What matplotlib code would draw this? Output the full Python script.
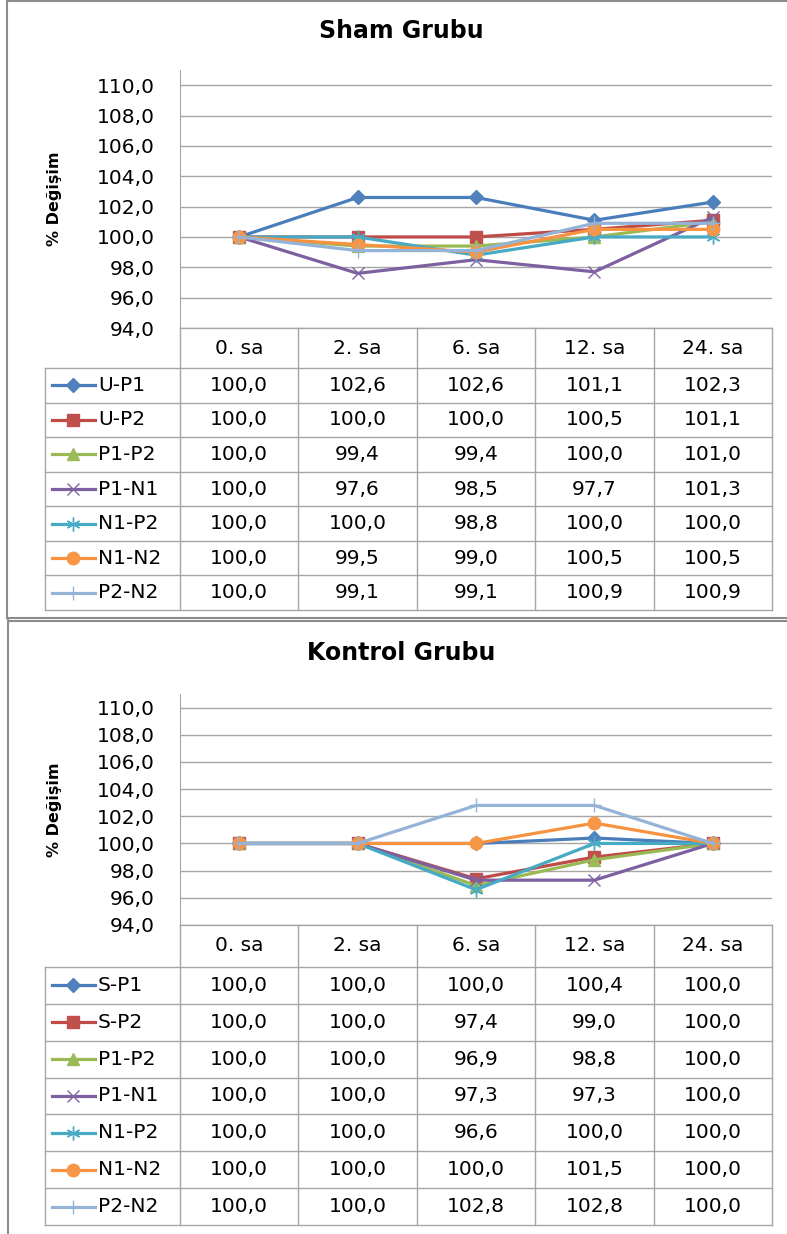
import numpy as np
import matplotlib
matplotlib.use("Agg")
import matplotlib.pyplot as plt
from matplotlib.lines import Line2D

plt.rcParams['font.family'] = ['DejaVu Sans']

hours = ['0. sa', '2. sa', '6. sa', '12. sa', '24. sa']

sham_labels = ['U-P1', 'U-P2', 'P1-P2', 'P1-N1', 'N1-P2', 'N1-N2', 'P2-N2']
sham_up1 = [100.0, 102.6, 102.6, 101.1, 102.3]
sham_up2 = [100.0, 100.0, 100.0, 100.5, 101.1]
sham_p1p2 = [100.0, 99.4, 99.4, 100.0, 101.0]
sham_p1n1 = [100.0, 97.6, 98.5, 97.7, 101.3]
sham_n1p2 = [100.0, 100.0, 98.8, 100.0, 100.0]
sham_n1n2 = [100.0, 99.5, 99.0, 100.5, 100.5]
sham_p2n2 = [100.0, 99.1, 99.1, 100.9, 100.9]

kontrol_labels = ['S-P1', 'S-P2', 'P1-P2', 'P1-N1', 'N1-P2', 'N1-N2', 'P2-N2']
kon_sp1 = [100.0, 100.0, 100.0, 100.4, 100.0]
kon_sp2 = [100.0, 100.0, 97.4, 99.0, 100.0]
kon_p1p2 = [100.0, 100.0, 96.9, 98.8, 100.0]
kon_p1n1 = [100.0, 100.0, 97.3, 97.3, 100.0]
kon_n1p2 = [100.0, 100.0, 96.6, 100.0, 100.0]
kon_n1n2 = [100.0, 100.0, 100.0, 101.5, 100.0]
kon_p2n2 = [100.0, 100.0, 102.8, 102.8, 100.0]

# excel 2007 style series
styles = [
    dict(color='#4A7EBB', marker='D', ms=7, mfc='#4F81BD', mec='#4F81BD', mew=1),
    dict(color='#BE4B48', marker='s', ms=8, mfc='#C0504D', mec='#C0504D', mew=1),
    dict(color='#98B954', marker='^', ms=9, mfc='#9BBB59', mec='#9BBB59', mew=1),
    dict(color='#7D60A0', marker='x', ms=9, mfc='#8064A2', mec='#8064A2', mew=1),
    dict(color='#46AAC5', marker=(6, 2, 0), ms=10, mfc='#4BACC6', mec='#4BACC6', mew=1),
    dict(color='#F69240', marker='o', ms=9, mfc='#F79646', mec='#F79646', mew=1),
    dict(color='#95B3D7', marker='+', ms=10, mfc='#95B3D7', mec='#95B3D7', mew=1),
]

W, H = 787, 1234
GRID = '#A6A6A6'
FS = 14.5


def frac(x0, y0, x1, y1):
    return [x0 / W, 1 - y1 / H, (x1 - x0) / W, (y1 - y0) / H]


def fmt(v):
    return f"{v:.1f}".replace('.', ',')


fig = plt.figure(figsize=(W / 100, H / 100), dpi=100)


def panel(title, title_y, top, bottom, tab_bottom, header_h, labels, series):
    fig.text(401 / W, 1 - title_y / H, title, ha='center', va='center',
             fontsize=17, fontweight='bold')

    ax = fig.add_axes(frac(180, top, 772, bottom))
    x = np.arange(len(hours))
    for vals, st in zip(series, styles):
        ax.plot(x, vals, lw=2.3, clip_on=False, **st)
    ax.set_xlim(-0.5, 4.5)
    ax.set_ylim(94, 111)
    yt = np.arange(94, 111, 2)
    ax.set_yticks(yt)
    ax.set_yticklabels([fmt(v) for v in yt])
    ax.set_xticks([])
    ax.yaxis.grid(True, color=GRID, lw=1)
    ax.set_axisbelow(True)
    for s in ['top', 'right', 'bottom']:
        ax.spines[s].set_visible(False)
    ax.spines['left'].set_color(GRID)
    ax.tick_params(axis='y', length=0, pad=18, labelsize=FS)
    fig.text(55 / W, 1 - ((top + bottom) / 2) / H, '% Değişim', rotation=90,
             ha='center', va='center', fontsize=11.5, fontweight='bold')

    # data table under the plot
    tab = fig.add_axes(frac(45, bottom, 772, tab_bottom))
    tab.set_xlim(45, 772)
    tab.set_ylim(tab_bottom, bottom)
    tab.axis('off')
    cols = [180, 298, 417, 535, 654, 772]
    rh = (tab_bottom - bottom - header_h) / len(labels)
    rows = [bottom, bottom + header_h] + [bottom + header_h + rh * (i + 1) for i in range(len(labels))]

    tab.plot([180, 772], [bottom, bottom], color=GRID, lw=1, clip_on=False)
    for yy in rows[1:]:
        tab.plot([45, 772], [yy, yy], color=GRID, lw=1, clip_on=False)
    tab.plot([45, 45], [rows[1], tab_bottom], color=GRID, lw=1, clip_on=False)
    for xx in cols:
        tab.plot([xx, xx], [bottom, tab_bottom], color=GRID, lw=1, clip_on=False)

    for j, h in enumerate(hours):
        tab.text((cols[j] + cols[j + 1]) / 2, (rows[0] + rows[1]) / 2, h,
                 ha='center', va='center', fontsize=FS)
    for i, (lab, vals, st) in enumerate(zip(labels, series, styles)):
        yc = (rows[i + 1] + rows[i + 2]) / 2
        tab.plot([52, 95], [yc, yc], color=st['color'], lw=2.3, clip_on=False)
        tab.plot([73], [yc], clip_on=False, ls='none',
                 **{k: v for k, v in st.items() if k != 'color'})
        tab.text(98, yc, lab, ha='left', va='center', fontsize=FS)
        for j, v in enumerate(vals):
            tab.text((cols[j] + cols[j + 1]) / 2, yc, fmt(v),
                     ha='center', va='center', fontsize=FS)


panel('Sham Grubu', 31, 70, 328, 610, 40, sham_labels,
      [sham_up1, sham_up2, sham_p1p2, sham_p1n1, sham_n1p2, sham_n1n2, sham_p2n2])
panel('Kontrol Grubu', 653, 694, 925, 1225, 42, kontrol_labels,
      [kon_sp1, kon_sp2, kon_p1p2, kon_p1n1, kon_n1p2, kon_n1n2, kon_p2n2])

# chart frames
for xs, ys in [([7, 7], [0, 618]), ([7, 787], [1, 1]), ([7, 787], [618, 618]),
               ([8, 8], [620, 1234]), ([8, 787], [621, 621])]:
    fig.add_artist(Line2D([x / W for x in xs], [1 - y / H for y in ys],
                          color='#8C8C8C', lw=1.5))

fig.savefig('out.png', dpi=100)
